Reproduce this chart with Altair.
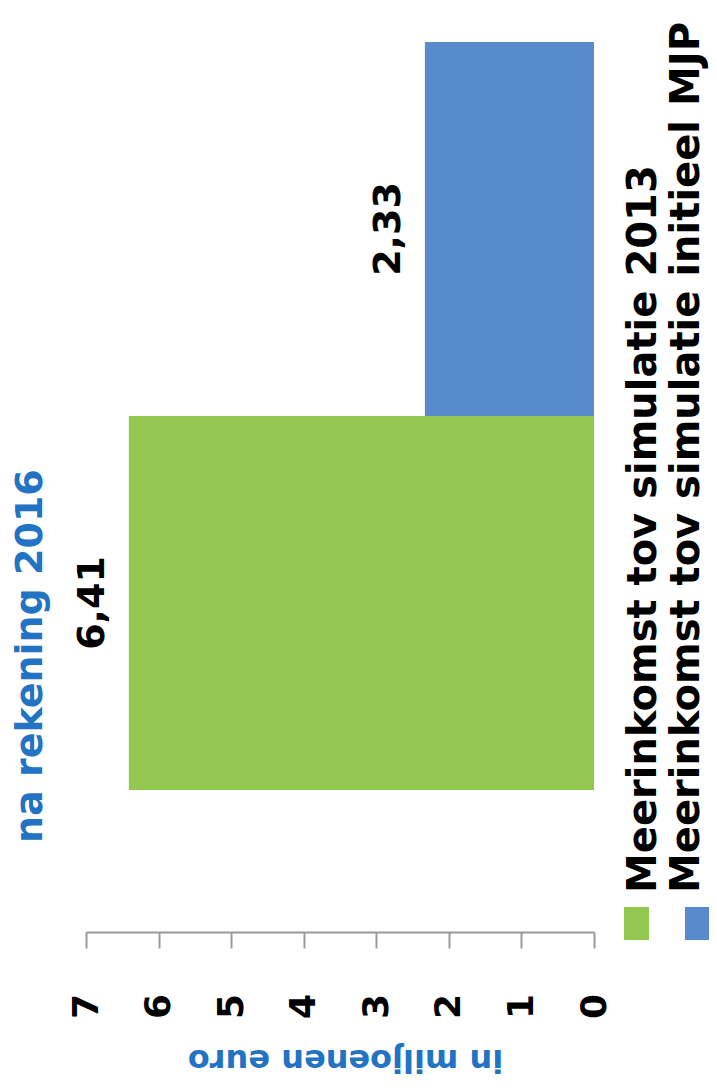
import altair as alt
import pandas as pd

# ---- data ----
series = ["Meerinkomst tov simulatie initieel MJP", "Meerinkomst tov simulatie 2013"]
values = [2.33, 6.41]
labels = ["2,33", "6,41"]
legend_order = ["Meerinkomst tov simulatie 2013", "Meerinkomst tov simulatie initieel MJP"]
colors = ["#92C850", "#578BCB"]
ticks = [0, 1, 2, 3, 4, 5, 6, 7]

df = pd.DataFrame({"series": series, "value": values, "label": labels})
leg = pd.DataFrame({"series": legend_order})

FONT = "DejaVu Sans"
BLUE = "#2273C3"
GRAY = "#9A9A9A"

color = alt.Color("series:N", scale=alt.Scale(domain=legend_order, range=colors), legend=None)

yscale = alt.Scale(domain=series, paddingInner=0, paddingOuter=0.246, align=0.228)
xscale = alt.Scale(domain=[0, 7], reverse=True, nice=False, zero=True)

bars = alt.Chart(df).mark_bar().encode(
    x=alt.X("value:Q", scale=xscale,
            axis=alt.Axis(values=ticks, orient="bottom", grid=False,
                          labelAngle=270, labelAlign="center", labelBaseline="middle",
                          labelFlush=False, labelOverlap=False, labelPadding=58,
                          labelFont=FONT, labelFontSize=36, labelFontWeight="bold", labelColor="black",
                          tickSize=16, tickColor=GRAY, tickWidth=2,
                          domainColor=GRAY, domainWidth=2,
                          title="in miljoenen euro", titleAngle=180, titleAlign="center",
                          titleBaseline="alphabetic", titleX=259, titleY=117,
                          titleFont=FONT, titleFontSize=32, titleFontWeight="bold", titleColor=BLUE)),
    y=alt.Y("series:N", sort=series, scale=yscale,
            axis=alt.Axis(orient="right", labels=False, ticks=False, title=None,
                          domainColor=GRAY, domainWidth=2, grid=False)),
    color=color,
)

texts = alt.Chart(df).mark_text(angle=270, align="center", baseline="alphabetic", dy=-25,
                                font=FONT, fontSize=38, fontWeight="bold", color="black").encode(
    x=alt.X("value:Q", scale=xscale, axis=None),
    y=alt.Y("series:N", sort=series, scale=yscale, axis=None),
    text="label:N",
)

legx = alt.X("series:N", sort=legend_order,
             scale=alt.Scale(domain=legend_order, range=[538, 624], paddingInner=0.59, paddingOuter=0),
             axis=None)

leg_sq = alt.Chart(leg).mark_rect().encode(
    x=legx, y=alt.value(907), y2=alt.value(940), color=color,
)
leg_tx = alt.Chart(leg).mark_text(angle=270, align="left", baseline="alphabetic", dy=10,
                                  font=FONT, fontSize=40, fontWeight="bold", color="black").encode(
    x=legx, y=alt.value(893), text="series:N",
)

chart = alt.layer(bars, texts, leg_sq, leg_tx).resolve_scale(x="independent").properties(
    width=508, height=932,
    title=alt.TitleParams(text="na rekening 2016", orient="left", anchor="start", frame="group",
                          angle=270, baseline="alphabetic", offset=-12, dx=89,
                          font=FONT, fontSize=38, fontWeight="bold", color=BLUE),
    autosize=alt.AutoSizeParams(type="none"),
    padding={"left": 78, "top": -8, "right": 115, "bottom": 151},
).configure_view(stroke=None)

chart.save("out.html", embed_options={"renderer": "svg", "actions": False})
